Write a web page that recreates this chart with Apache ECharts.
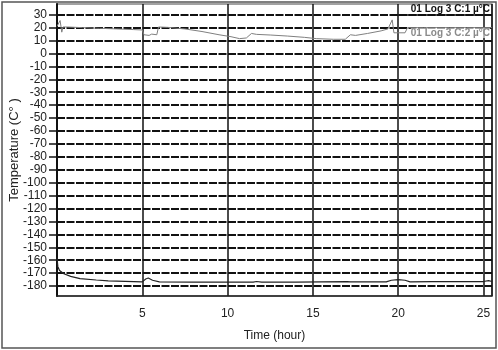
<!DOCTYPE html>
<html>
<head>
<meta charset="utf-8">
<script src="https://cdn.jsdelivr.net/npm/echarts@6/dist/echarts.min.js"></script>
<style>html,body{margin:0;padding:0;background:#fff}#c{width:498px;height:350px}</style>
</head>
<body>
<div id="c"></div>
<script>
var seriesNames = ['01 Log 3 C:1 \u00b5\u00b0C', '01 Log 3 C:2 \u00b5\u00b0C'];
var yTicks = [30,20,10,0,-10,-20,-30,-40,-50,-60,-70,-80,-90,-100,-110,-120,-130,-140,-150,-160,-170,-180];
var xTicks = [5,10,15,20,25];
// channel 1 (cold probe): [hour, °C]
var ch1 = [[0,-158],[0.05,-165],[0.15,-168],[0.4,-170.5],[0.8,-172.5],[1.35,-174.3],[2.3,-175.3],[3,-176],[4.5,-176.5],[5.0,-176.8],[5.2,-174.5],[5.35,-173.8],[5.6,-175.5],[6,-176.8],[8,-177],[10,-177],[11.5,-177],[11.7,-176.5],[12,-177],[14,-177],[15.5,-176.8],[17,-176.5],[17.2,-176.8],[19.3,-176.8],[19.6,-175.5],[20,-175],[20.4,-175.5],[20.7,-176.8],[22,-176.5],[23,-176.5],[25,-176.5],[25.3,-175.8],[25.5,-176.5]];
// channel 2 (ambient): [hour, °C]
var ch2 = [[0,21],[0.1,22],[0.18,25.5],[0.22,22],[0.28,16.5],[0.35,20.5],[0.6,20.5],[1.5,20],[2.5,19.5],[3.5,19],[4.5,18.5],[5.0,18.2],[5.1,14.5],[5.4,14],[5.55,15],[5.65,14],[5.85,14.5],[5.95,20.5],[6.5,20.2],[7.5,19],[8.5,17],[9.5,14.5],[10.2,13],[10.7,11.5],[11.1,12],[11.4,15.5],[11.7,14.8],[12.5,14.3],[13.5,13.5],[14.5,12.5],[15.2,11.5],[16.2,11],[16.9,11],[17.2,14.5],[17.5,14],[18.2,15.5],[19.0,17.5],[19.4,19],[19.65,26],[19.75,16],[20.4,16],[20.55,20],[21.5,20],[23,20],[24,20],[25.5,20]];

var FONT = "'Liberation Sans', Arial, sans-serif";
var chart = echarts.init(document.getElementById('c'), null, {renderer:'canvas'});
chart.setOption({
  animation: false,
  backgroundColor: '#fff',
  textStyle: {fontFamily: FONT},
  grid: {left: 57, top: 4, right: 6, bottom: 54, show: true, borderColor: '#444', borderWidth: 1.2, containLabel: false, outerBoundsMode: 'none'},
  xAxis: {
    type: 'value', min: 0, max: 25.5, interval: 5,
    name: 'Time (hour)', nameLocation: 'middle', nameGap: 34,
    nameTextStyle: {fontSize: 12, color: '#222', fontFamily: FONT},
    axisLine: {show: true, onZero: false, lineStyle: {color: '#222', width: 1.5}},
    axisTick: {show: false},
    axisLabel: {showMinLabel: false, showMaxLabel: false, fontSize: 12, color: '#222', margin: 12, fontFamily: FONT,
      formatter: function(v){ return xTicks.indexOf(v) >= 0 ? String(v) : ''; }},
    splitLine: {show: true, lineStyle: {color: '#111', width: 1.5, type: 'solid'}}
  },
  yAxis: {
    type: 'value', min: -187.7, max: 38.3,
    name: 'Temperature (C\u00b0 )', nameLocation: 'middle', nameGap: 36, nameMoveOverlap: false,
    nameTextStyle: {fontSize: 13, color: '#222', fontFamily: FONT},
    axisLine: {show: true, onZero: false, lineStyle: {color: '#111', width: 2}},
    axisTick: {show: true, length: 8, customValues: yTicks, lineStyle: {color: '#111', width: 1.5}},
    axisLabel: {customValues: yTicks, fontSize: 12, color: '#222', margin: 10, fontFamily: FONT},
    splitLine: {show: true, lineStyle: {color: '#111', width: 1.8, type: [8, 1.5]}}
  },
  series: [
    {name: seriesNames[0], type: 'line', data: ch1, symbol: 'none', lineStyle: {color: '#222', width: 1.2}, z: 3},
    {name: seriesNames[1], type: 'line', data: ch2, symbol: 'none', lineStyle: {color: '#808080', width: 1}, z: 3}
  ],
  graphic: [
    {type: 'rect', shape: {x: 2, y: 2, width: 494, height: 346}, style: {fill: 'none', stroke: '#555', lineWidth: 1.5}, silent: true},
    {type: 'line', shape: {x1: 396, y1: 15, x2: 492, y2: 15}, style: {stroke: '#111', lineWidth: 1.5}, z: 10},
    {type: 'text', right: 8, top: 4, style: {text: seriesNames[0], fill: '#111', font: "bold 10px " + FONT}, z: 10},
    {type: 'text', right: 8, top: 28, style: {text: seriesNames[1], fill: '#8a8a8a', font: "bold 10px " + FONT, backgroundColor: 'rgba(255,255,255,0.6)'}, z: 10}
  ]
});
</script>
</body>
</html>
